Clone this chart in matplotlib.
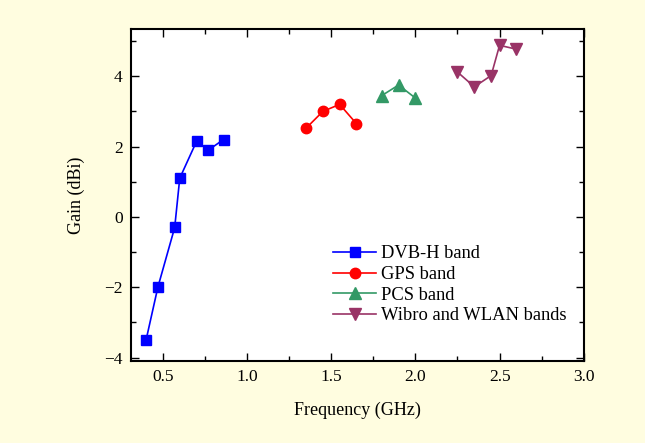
import matplotlib
matplotlib.use('Agg')
import matplotlib.pyplot as plt
from matplotlib.ticker import MultipleLocator, FormatStrFormatter

plt.rcParams['font.family'] = ['Liberation Serif', 'DejaVu Serif']

# data
dvb_f = [0.40, 0.47, 0.57, 0.60, 0.70, 0.77, 0.86]
dvb_g = [-3.5, -2.0, -0.3, 1.1, 2.15, 1.9, 2.2]
gps_f = [1.35, 1.45, 1.55, 1.65]
gps_g = [2.52, 3.0, 3.2, 2.65]
pcs_f = [1.80, 1.90, 2.00]
pcs_g = [3.45, 3.75, 3.38]
wib_f = [2.25, 2.35, 2.45, 2.50, 2.60]
wib_g = [4.12, 3.70, 4.02, 4.88, 4.77]

bg = '#fffde0'
fig = plt.figure(figsize=(6.45, 4.43), dpi=100, facecolor=bg)
ax = fig.add_axes([0.203, 0.185, 0.702, 0.75])

ax.plot(dvb_f, dvb_g, color='#0000ff', marker='s', ms=7, lw=1.2, label='DVB-H band')
ax.plot(gps_f, gps_g, color='#ff0000', marker='o', ms=7.5, lw=1.2, label='GPS band')
ax.plot(pcs_f, pcs_g, color='#339966', marker='^', ms=8.5, lw=1.2, label='PCS band')
ax.plot(wib_f, wib_g, color='#993366', marker='v', ms=8.5, lw=1.2, label='Wibro and WLAN bands')

ax.set_xlim(0.31, 3.0)
ax.set_ylim(-4.1, 5.35)
ax.xaxis.set_major_locator(MultipleLocator(0.5))
ax.xaxis.set_minor_locator(MultipleLocator(0.25))
ax.yaxis.set_major_locator(MultipleLocator(2))
ax.yaxis.set_minor_locator(MultipleLocator(1))
ax.xaxis.set_major_formatter(FormatStrFormatter('%.1f'))
ax.tick_params(which='both', direction='in', top=True, right=True, labelsize=12.5, width=1)
ax.tick_params(which='major', length=6, pad=6)
ax.tick_params(which='minor', length=3.5)
for s in ax.spines.values():
    s.set_linewidth(1.5)

ax.set_xlabel('Frequency (GHz)', fontsize=13, labelpad=12)
ax.set_ylabel('Gain (dBi)', fontsize=13, labelpad=14)

ax.legend(loc='lower left', bbox_to_anchor=(0.447, 0.11), frameon=False, fontsize=13.3,
          handlelength=2.3, handletextpad=0.3, labelspacing=0.2,
          borderpad=0, borderaxespad=0)

fig.savefig('out.png', dpi=100, facecolor=bg)
